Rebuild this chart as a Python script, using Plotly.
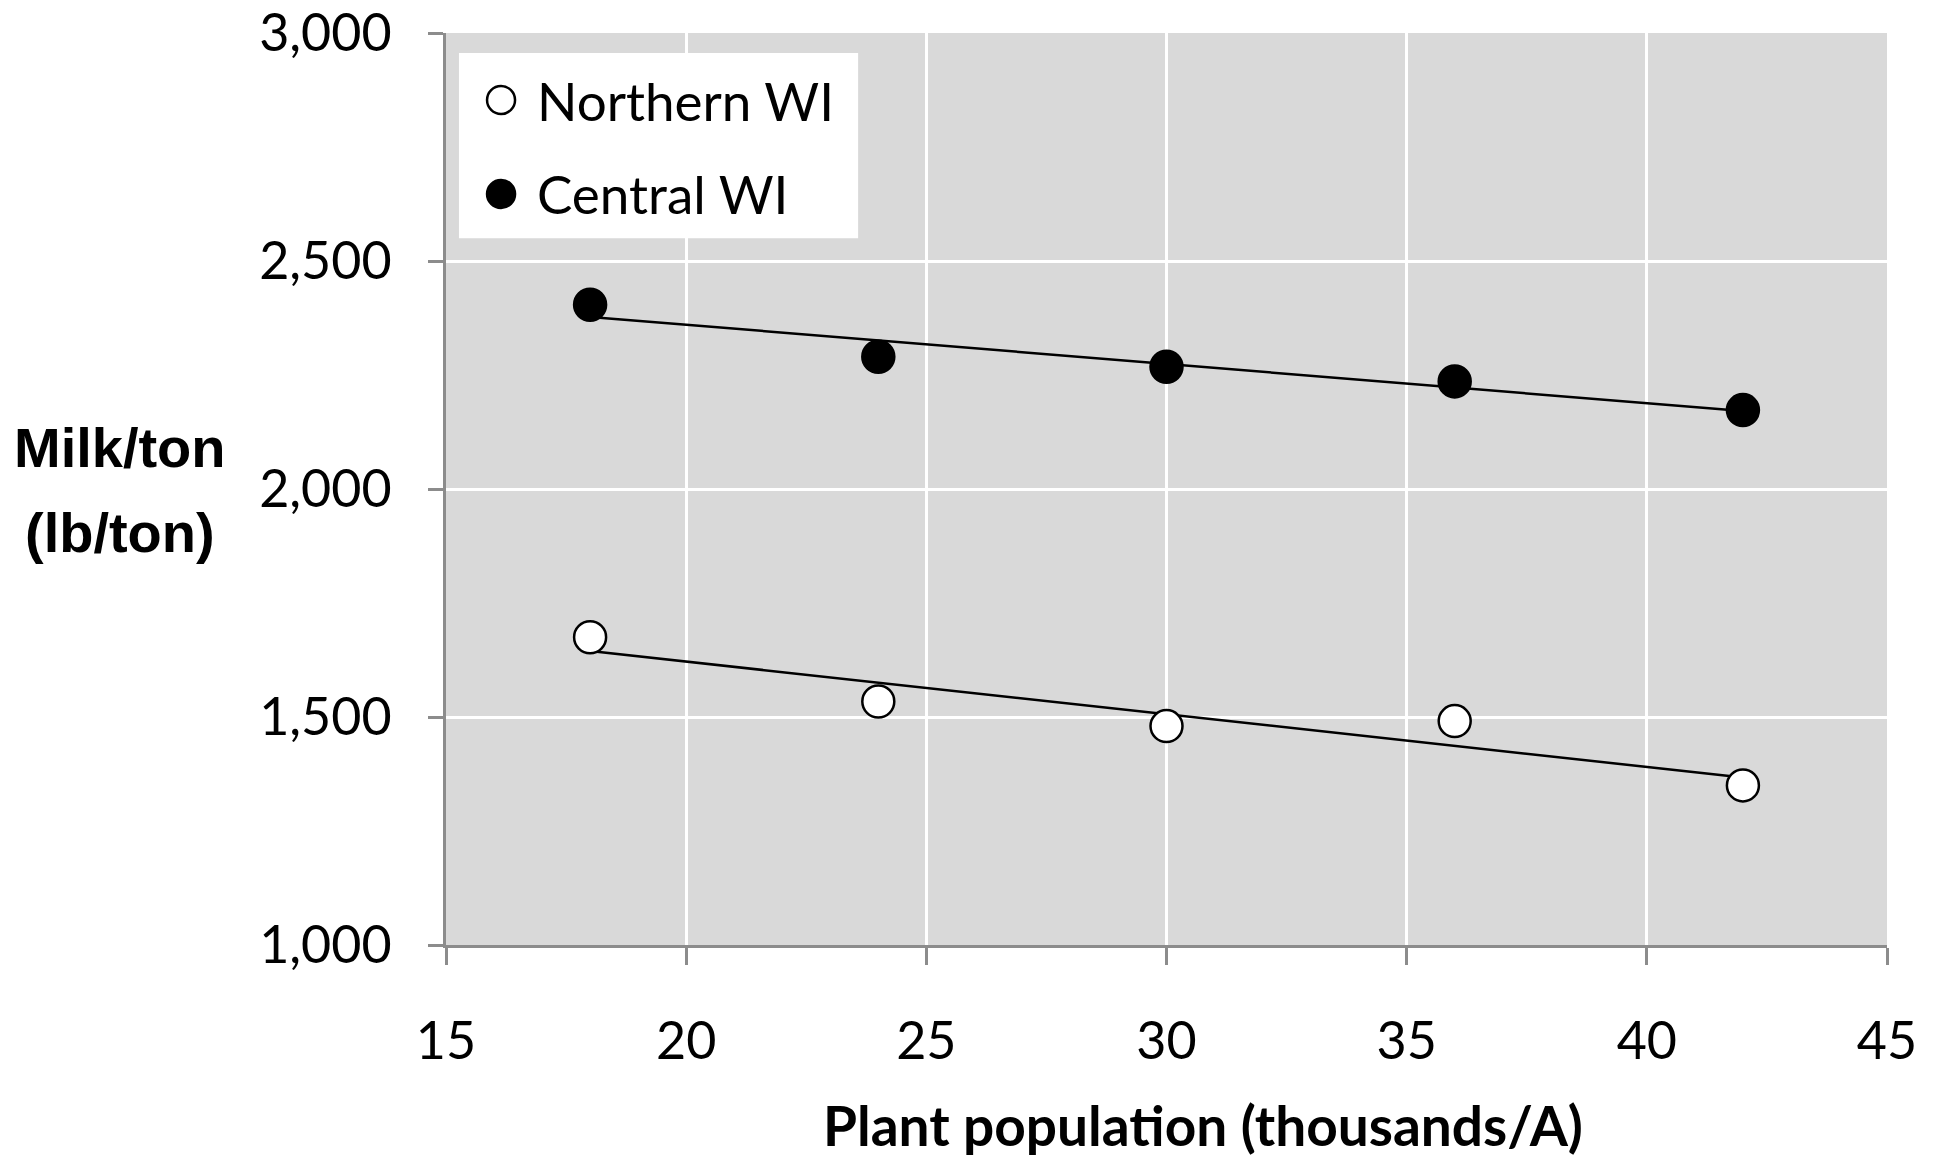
import numpy as np
import plotly.graph_objects as go

# Data
population = [18, 24, 30, 36, 42]
northern_wi = [1675, 1534, 1480, 1491, 1350]
central_wi = [2404, 2290, 2268, 2236, 2173]
series_names = ["Northern WI", "Central WI"]
series_fill = ["white", "black"]
x_ticks = [15, 20, 25, 30, 35, 40, 45]
y_ticks = [1000, 1500, 2000, 2500, 3000]
y_tick_labels = ["1,000", "1,500", "2,000", "2,500", "3,000"]

def trend(x, y):
    m, b = np.polyfit(x, y, 1)
    xs = [min(x), max(x)]
    return xs, [m * v + b for v in xs]

fig = go.Figure()
series = [northern_wi, central_wi]

for name, vals in zip(series_names, series):
    tx, ty = trend(population, vals)
    fig.add_trace(go.Scatter(x=tx, y=ty, mode="lines", line=dict(color="black", width=2.5),
                             showlegend=False, hoverinfo="skip", name=name + " trend"))

for name, vals, fill in zip(series_names, series, series_fill):
    fig.add_trace(go.Scatter(x=population, y=vals, mode="markers", name=name, showlegend=False,
                             marker=dict(size=32, color=fill, line=dict(color="black", width=2.5))))

tick_font = dict(family="Lato", size=52, color="black")

# Legend drawn as a white box with circle symbols and text (paper coordinates)
shapes = [dict(type="rect", xref="paper", yref="paper", x0=0.009, x1=0.286, y0=0.775, y1=0.978,
               fillcolor="white", line=dict(width=0), layer="above")]
annotations = []
legend_y = [0.9265, 0.8235]
for name, fill, ly in zip(series_names, series_fill, legend_y):
    shapes.append(dict(type="circle", xref="paper", yref="paper", xsizemode="pixel", ysizemode="pixel",
                       xanchor=0.0382, yanchor=ly, x0=-14, x1=14, y0=-14, y1=14,
                       fillcolor=fill, line=dict(color="black", width=2.5), layer="above"))
    annotations.append(dict(text=name, xref="paper", yref="paper", x=0.0618, y=ly, xanchor="left",
                            yanchor="middle", showarrow=False,
                            font=dict(family="Lato", size=53, color="black")))

annotations += [
    dict(text="<b>Milk/ton</b>", xref="paper", yref="paper", x=-0.226, y=0.545,
         xanchor="center", yanchor="middle", showarrow=False,
         font=dict(family="Liberation Sans", size=56, color="black")),
    dict(text="<b>(lb/ton)</b>", xref="paper", yref="paper", x=-0.226, y=0.452,
         xanchor="center", yanchor="middle", showarrow=False,
         font=dict(family="Liberation Sans", size=56, color="black")),
    dict(text="<b>Plant population (thousands/A)</b>", xref="paper", yref="paper", x=0.525, y=-0.197,
         xanchor="center", yanchor="middle", showarrow=False,
         font=dict(family="Lato", size=55, color="black")),
]

fig.update_layout(
    width=1936, height=1163,
    margin=dict(l=446, r=49, t=33, b=218, autoexpand=False),
    paper_bgcolor="white",
    plot_bgcolor="#d9d9d9",
    showlegend=False,
    xaxis=dict(range=[15, 45], tickvals=x_ticks, showgrid=True, gridcolor="white", gridwidth=2.5,
               showline=True, linecolor="#8c8c8c", linewidth=3, ticks="outside", ticklen=17,
               tickwidth=2.5, tickcolor="#8c8c8c", tickfont=tick_font, ticklabelstandoff=32,
               zeroline=False, automargin=False),
    yaxis=dict(range=[1000, 3000], tickvals=y_ticks, ticktext=y_tick_labels, showgrid=True,
               gridcolor="white", gridwidth=2.5, showline=True, linecolor="#8c8c8c", linewidth=3,
               ticks="outside", ticklen=15, tickwidth=2.5, tickcolor="#8c8c8c", tickfont=tick_font,
               ticklabelstandoff=26, zeroline=False, automargin=False),
    shapes=shapes,
    annotations=annotations,
)

fig.write_html("out.html")
